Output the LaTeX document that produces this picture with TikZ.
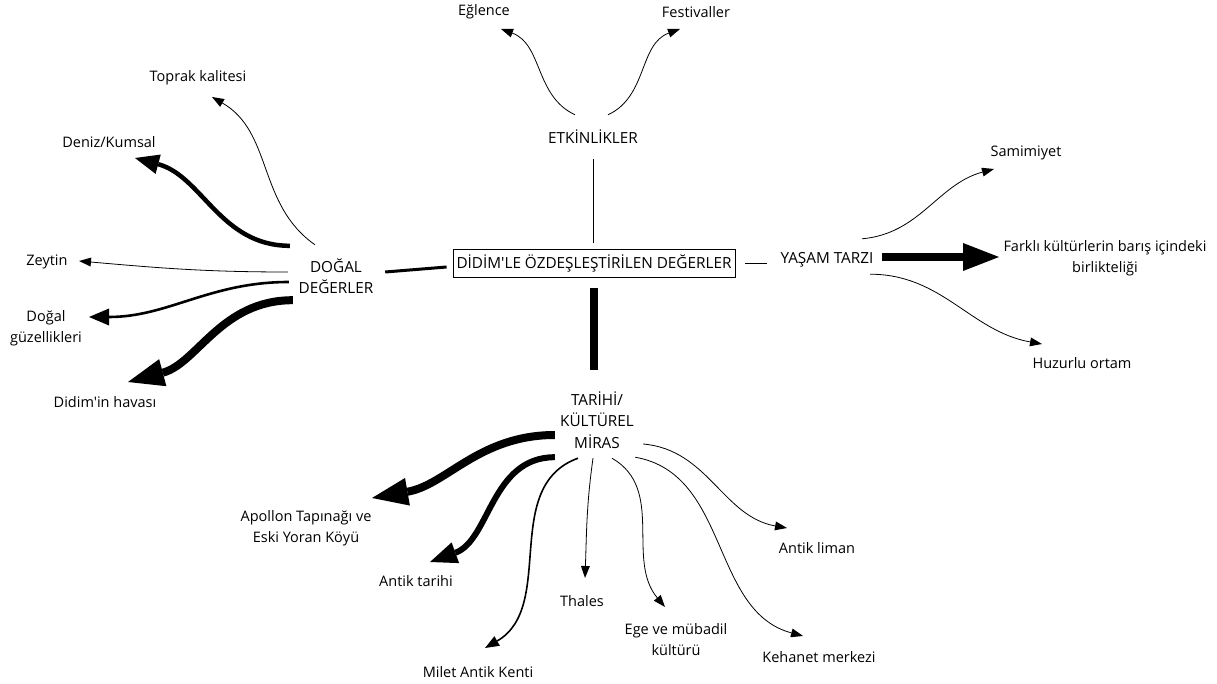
\documentclass[tikz,border=0pt]{standalone}
\usepackage{fontspec}
\setmainfont{Open Sans}[Ligatures=TeXOff]
\usetikzlibrary{arrows.meta}
\tikzset{
    tnode/.style = {align=center, inner sep=0pt, text centered, font=\fontsize{14.5}{21}\selectfont},
    caps/.style = {font=\fontsize{15.3}{21.5}\selectfont},
    root_box/.style = {tnode, caps, rectangle, draw=black, line width=0.8pt, minimum width=282pt, minimum height=28pt},
    hub/.style = {tnode, caps, rectangle},
    leaf/.style = {tnode},
    link/.style = {-, line width=0.8pt},
    link_thick/.style = {-, line width=3pt},
    link_heavy/.style = {-, line width=8pt},
    arrow_thin/.style = {-{Triangle[length=12pt, width=9pt, line width=0pt 0 0]}, line width=0.8pt},
    arrow_mid/.style = {-{Triangle[length=14pt, width=11pt, line width=0pt 0 0]}, line width=1.6pt},
    arrow_wide/.style = {-{Triangle[length=20pt, width=17pt, line width=0pt 0 0]}, line width=2.6pt},
    arrow_thick/.style = {-{Triangle[length=24pt, width=20pt, line width=0pt 0 0]}, line width=4.5pt},
    arrow_heavier/.style = {-{Triangle[length=27pt, width=22pt, line width=0pt 0 0]}, line width=6pt},
    arrow_heavy/.style = {-{Triangle[length=36pt, width=28pt, line width=0pt 0 0]}, line width=8pt}
}

\begin{document}
\begin{tikzpicture}
    [x=1pt, y=-1pt]
    \useasboundingbox (0,0) rectangle (1217,684);

    % centre and hubs
    \node [root_box] (root) at (594,263) {DİDİM\char"27LE ÖZDEŞLEŞTİRİLEN DEĞERLER};
    \node [hub, minimum width=96pt, minimum height=56pt] (dogal) at (336,276) {DOĞAL\\DEĞERLER};
    \node [hub, minimum width=90pt, minimum height=44pt] (etk) at (593,137) {ETKİNLİKLER};
    \node [hub, minimum width=100pt, minimum height=40pt] (yasam) at (827,260) {YAŞAM TARZI};
    \node [hub, minimum width=88pt, minimum height=76pt] (tarih) at (597,420) {TARİHİ/\\KÜLTÜREL\\MİRAS};

    % leaves
    \node [leaf] (toprak) at (198,78) {Toprak kalitesi};
    \node [leaf] (deniz) at (109,142) {Deniz/Kumsal};
    \node [leaf] (zeytin) at (47,262) {Zeytin};
    \node [leaf] (dgz) at (46,328) {Doğal\\güzellikleri};
    \node [leaf] (didim) at (105,402) {Didim\char"27in havası};
    \node [leaf] (eglence) at (484,12) {Eğlence};
    \node [leaf] (festival) at (696,12) {Festivaller};
    \node [leaf] (samimiyet) at (1026,153) {Samimiyet};
    \node [leaf] (farkli) at (1105,258) {Farklı kültürlerin barış içindeki\\birlikteliği};
    \node [leaf] (huzur) at (1082,363) {Huzurlu ortam};
    \node [leaf] (apollon) at (306,528) {Apollon Tapınağı ve\\Eski Yoran Köyü};
    \node [leaf] (antikt) at (416,581) {Antik tarihi};
    \node [leaf] (milet) at (478,672) {Milet Antik Kenti};
    \node [leaf] (thales) at (582,601) {Thales};
    \node [leaf] (ege) at (676,640) {Ege ve mübadil\\kültürü};
    \node [leaf] (kehanet) at (819,657) {Kehanet merkezi};
    \node [leaf] (liman) at (817,548) {Antik liman};

    % centre links
    \draw [link_thick] ([shift={(1,-4)}]dogal.east) -- ([shift={(-6,4)}]root.west);
    \draw [link, shorten >=6pt] (etk.south) -- (etk.south |- root.north);
    \draw [link, shorten <=10pt, shorten >=10pt] (root.east) -- (root.east -| yasam.west);
    \draw [link_heavy, shorten <=11pt, shorten >=12pt] (root.south) -- (root.south |- tarih.north);

    % dogal degerler
    \draw [arrow_thin] ([shift={(-21,-3)}]dogal.north) to[out=145, in=-30] ([shift={(14,19)}]toprak.center);
    \draw [arrow_thick] ([shift={(2,-2)}]dogal.north west) to[out=180, in=-15] ([shift={(26,16)}]deniz.center);
    \draw [arrow_thin] ([shift={(0,-4)}]dogal.west) to[out=180, in=-5] ([shift={(32,-1)}]zeytin.center);
    \draw [arrow_wide] ([shift={(1,6)}]dogal.west) to[out=180, in=0] ([shift={(43,-11)}]dgz.center);
    \draw [arrow_heavy] ([shift={(5,-4)}]dogal.south west) to[out=180, in=15] ([shift={(23,-20)}]didim.center);

    % etkinlikler
    \draw [arrow_thin] ([shift={(-18,0)}]etk.north) to[out=155, in=-20] ([shift={(17,17)}]eglence.center);
    \draw [arrow_thin] ([shift={(15,0)}]etk.north) to[out=25, in=200] ([shift={(-16,17)}]festival.center);

    % yasam tarzi
    \draw [arrow_thin] ([shift={(35,-1)}]yasam.north) to[out=5, in=195] ([shift={(-32,16)}]samimiyet.center);
    \draw [arrow_heavy] ([shift={(5,-3)}]yasam.east) -- ([shift={(-106,-1)}]farkli.center);
    \draw [arrow_thin] ([shift={(43,-6)}]yasam.south) to[out=0, in=170] ([shift={(-40,-19)}]huzur.center);

    % tarihi / kulturel miras
    \draw [arrow_heavy] ([shift={(2,15)}]tarih.west) to[out=180, in=10] ([shift={(66,-30)}]apollon.center);
    \draw [arrow_heavier] ([shift={(2,-1)}]tarih.south west) to[out=180, in=20] ([shift={(14,-19)}]antikt.center);
    \draw [arrow_mid] ([shift={(-19,0)}]tarih.south) to[out=200, in=30] ([shift={(7,-24)}]milet.center);
    \draw [arrow_thin] ([shift={(-4,0)}]tarih.south) to[out=262, in=88] ([shift={(3,-23)}]thales.center);
    \draw [arrow_thin] ([shift={(15,0)}]tarih.south) to[out=-30, in=130] ([shift={(-11,-33)}]ege.center);
    \draw [arrow_thin] ([shift={(-6,-1)}]tarih.south east) to[out=-10, in=165] ([shift={(-16,-21)}]kehanet.center);
    \draw [arrow_thin] ([shift={(2,24)}]tarih.east) to[out=-5, in=170] ([shift={(-30,-20)}]liman.center);
\end{tikzpicture}
\end{document}
